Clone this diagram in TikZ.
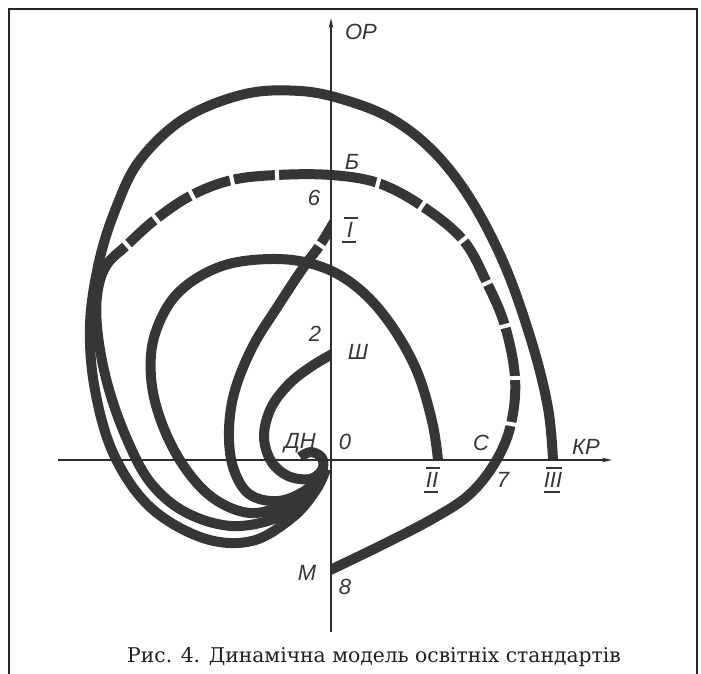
\documentclass[tikz,border=0pt]{standalone}
\usepackage{fontspec}
\setmainfont{DejaVu Serif}
\newfontfamily\lblfam{Liberation Sans}
\usetikzlibrary{arrows.meta}
\definecolor{ink}{HTML}{363636}
\definecolor{axisink}{HTML}{2E2E2E}
\begin{document}
\begin{tikzpicture}[x=1pt,y=-1pt,
  curve/.style={draw=ink, line width=10pt, line join=round},
  axisln/.style={draw=axisink, line width=1.6pt},
  arr/.style={-{Stealth[length=10pt,width=4.5pt]}},
  lbl/.style={text=ink, inner sep=0pt, font=\lblfam\itshape\fontsize{22}{22}\selectfont},
  capt/.style={text=black!88, inner sep=0pt, font=\fontsize{20.3}{20.3}\selectfont},
  gapm/.style={fill=white, rectangle, minimum width=4pt, minimum height=16pt, inner sep=0pt},
  barln/.style={draw=ink, line width=2.4pt},
  frameln/.style={draw=black!85, line width=2pt}]

\path[use as bounding box] (0,0) rectangle (701,674);
\fill[white] (0,0) rectangle (701,674);
\draw[frameln] (9,676) -- (9,9) -- (697,9) -- (697,676);

\coordinate (yb) at (331,632);
\coordinate (yt) at (331,18);
\coordinate (xl) at (58,460);
\coordinate (xr) at (612,460);

% outer spiral to III
\draw[curve] plot[smooth, tension=0.6] coordinates {(326,469) (316,490) (293,517) (252,541) (203,538) (150,507) (114,455) (95,390) (90,325) (99,262) (116,208) (140,160) (185,118) (245,94) (300,91) (345,100) (392,119) (434,152) (471,200) (505,266) (532,343) (548,408) (553,460)};
% spiral through C to M
\draw[curve] plot[smooth, tension=0.6] coordinates {(326,469) (311,494) (279,517) (232,526) (185,512) (150,482) (126,437) (108,386) (98,336) (97,296) (106,266) (127,245) (156,219) (192,195) (232,180) (277,175) (331,175) (378,183) (422,206) (463,240) (487,283) (505,326) (515,378) (511,424) (496,461) (470,494) (434,518) (382,545) (326,572)};
% spiral to II
\draw[curve] plot[smooth, tension=0.6] coordinates {(326,469) (312,487) (287,504) (250,513) (213,498) (183,465) (161,421) (151,377) (155,334) (178,293) (222,266) (277,259) (322,267) (358,288) (389,322) (416,369) (432,421) (438,460)};
\begin{scope}
\clip (0,0) rectangle (331.5,674);
% spiral to I
\draw[curve] plot[smooth, tension=0.6] coordinates {(326,469) (306,490) (278,501) (249,494) (233,467) (229,430) (235,390) (253,346) (278,306) (303,268) (320,245) (334,222)};
% spiral to Sh
\draw[curve] plot[smooth, tension=0.6] coordinates {(300,457) (311,452) (322,458) (322,470) (310,479) (288,476) (271,461) (264,436) (271,408) (289,384) (312,366) (336,352)};
\end{scope}

% gaps of the broken curve
\foreach \gx/\gy/\ga in {127/245/42, 156/219/38, 192/195/28, 232/180/12, 277/175/3, 378/183/-14, 422/206/-34, 463/240/-50, 487/283/-66, 505/326/-76, 515/378/-88, 511/424/-100}
  \node[gapm, rotate=\ga] at (\gx,\gy) {};
\node[gapm, rotate=56] (gI) at (320,245) {};

\fill[white] (318,556) rectangle (330.5,584);

\draw[axisln, arr] (yb) -- (yt);
\draw[axisln, arr] (xl) -- (xr);

\node[lbl] (OP) at (361,32) {ОР};
\node[lbl] (KP) at (586,447) {КР};
\node[lbl] (B) at (352,162) {Б};
\node[lbl] (six) at (314,198) {6};
\node[lbl] (r1) at (350,230) {I};
\node[lbl] (two) at (315,334) {2};
\node[lbl] (Sh) at (358,352) {Ш};
\node[lbl] (DN) at (300,443) {ДН};
\node[lbl] (zero) at (345,442) {0};
\node[lbl] (r2) at (432,480) {II};
\node[lbl] (C) at (481,443) {С};
\node[lbl] (seven) at (503,480) {7};
\node[lbl] (r3) at (553,480) {III};
\node[lbl] (M) at (307,573) {М};
\node[lbl] (eight) at (345,587) {8};

\foreach \r/\w in {r1/7, r2/7, r3/8}{
  \draw[barln] ([xshift=-\w pt+1pt,yshift=4pt]\r.north) -- ([xshift=\w pt+1pt,yshift=4pt]\r.north);
  \draw[barln] ([xshift=-\w pt-1pt,yshift=-4pt]\r.south) -- ([xshift=\w pt-1pt,yshift=-4pt]\r.south);
}

\node[capt] (cap) at (374,657) {Рис. 4. Динамічна модель освітніх стандартів};
\end{tikzpicture}
\end{document}
